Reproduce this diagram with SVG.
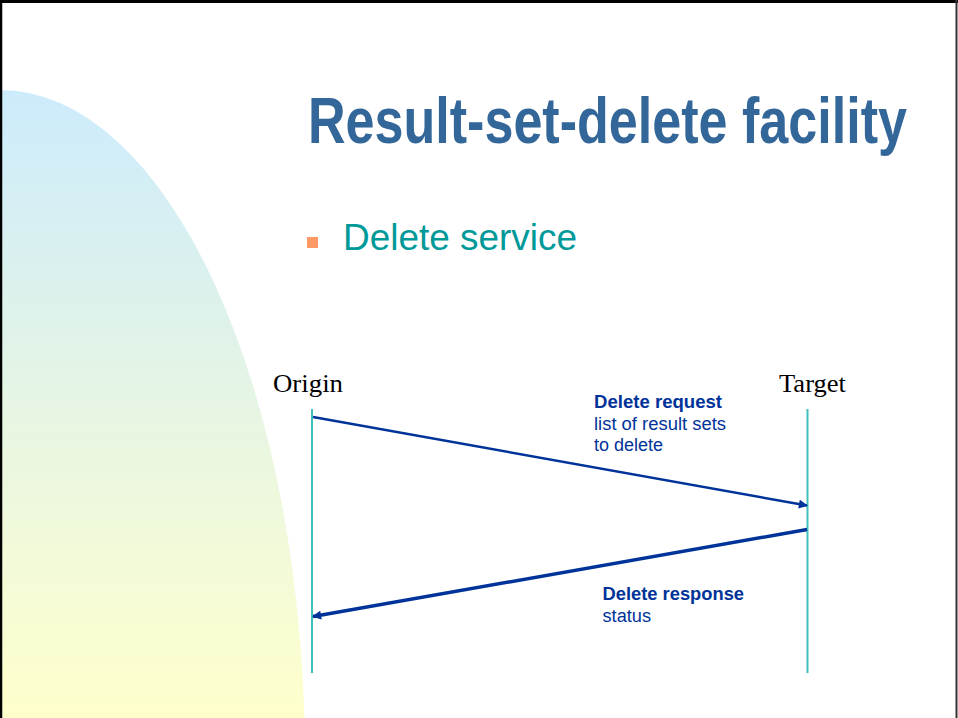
<svg xmlns="http://www.w3.org/2000/svg" width="958" height="718" viewBox="0 0 958 718">
  <defs>
    <linearGradient id="bgGrad" x1="0" y1="90" x2="0" y2="718" gradientUnits="userSpaceOnUse">
      <stop offset="0" stop-color="#CCEBFC"/>
      <stop offset="0.5" stop-color="#E6F5E4"/>
      <stop offset="1" stop-color="#FFFFCC"/>
    </linearGradient>
    <marker id="arrow" viewBox="0 0 10 10" refX="9" refY="5" markerUnits="userSpaceOnUse" markerWidth="10" markerHeight="9" orient="auto">
      <path d="M0,0 L10,5 L0,10 z" fill="#003399"/>
    </marker>
    <style>
      .lifeline { stroke: #40BFBF; stroke-width: 2; fill: none; }
      .msg { stroke: #003399; fill: none; }
      .actor { font-family: "Liberation Serif", "Times New Roman", serif; font-size: 26px; fill: #000000; }
      .lbl { font-family: "Liberation Sans", Arial, sans-serif; font-size: 18px; fill: #003399; }
      .lblb { font-weight: bold; }
      .title { font-family: "Liberation Sans", Arial, sans-serif; font-weight: bold; font-size: 64px; fill: #336699; }
      .bullet { font-family: "Liberation Sans", Arial, sans-serif; font-size: 37px; fill: #009999; }
    </style>
  </defs>

  <!-- background -->
  <rect x="0" y="0" width="958" height="718" fill="#FFFFFF"/>
  <path d="M0,90 A305,670 0 0 1 305,760 L0,760 Z" fill="url(#bgGrad)"/>

  <!-- frame -->
  <line x1="0" y1="1.5" x2="958" y2="1.5" stroke="#000000" stroke-width="3"/>
  <line x1="1" y1="0" x2="1" y2="718" stroke="#000000" stroke-width="2.5"/>
  <line x1="956.5" y1="0" x2="956.5" y2="718" stroke="#333333" stroke-width="2"/>

  <!-- title -->
  <text class="title" transform="scale(0.8139,1)" x="378.4" y="143">Result-set-delete facility</text>

  <!-- bullet -->
  <rect x="307" y="237" width="11" height="11" fill="#FF9966"/>
  <text class="bullet" x="343" y="250" textLength="234" lengthAdjust="spacingAndGlyphs">Delete service</text>

  <!-- nodes -->
  <g id="origin">
    <text class="actor" x="273" y="392" textLength="70" lengthAdjust="spacingAndGlyphs">Origin</text>
    <line class="lifeline" x1="312" y1="409" x2="312" y2="673"/>
  </g>
  <g id="target">
    <text class="actor" x="779" y="392" textLength="67" lengthAdjust="spacingAndGlyphs">Target</text>
    <line class="lifeline" x1="807.5" y1="409" x2="807.5" y2="673"/>
  </g>

  <!-- connectors -->
  <g id="connectors">
    <line class="msg" x1="313" y1="417" x2="807" y2="505.5" stroke-width="2.4" marker-end="url(#arrow)"/>
    <line class="msg" x1="807" y1="529.5" x2="313" y2="616.5" stroke-width="3.5" marker-end="url(#arrow)"/>
  </g>

  <!-- connector labels -->
  <g id="request-label">
    <text class="lbl lblb" x="594" y="408" textLength="128" lengthAdjust="spacingAndGlyphs">Delete request</text>
    <text class="lbl" x="594" y="429.5" textLength="132" lengthAdjust="spacingAndGlyphs">list of result sets</text>
    <text class="lbl" x="594" y="451" textLength="69" lengthAdjust="spacingAndGlyphs">to delete</text>
  </g>
  <g id="response-label">
    <text class="lbl lblb" x="602.5" y="600" textLength="141.5" lengthAdjust="spacingAndGlyphs">Delete response</text>
    <text class="lbl" x="602.5" y="621.5" textLength="48.5" lengthAdjust="spacingAndGlyphs">status</text>
  </g>
</svg>
